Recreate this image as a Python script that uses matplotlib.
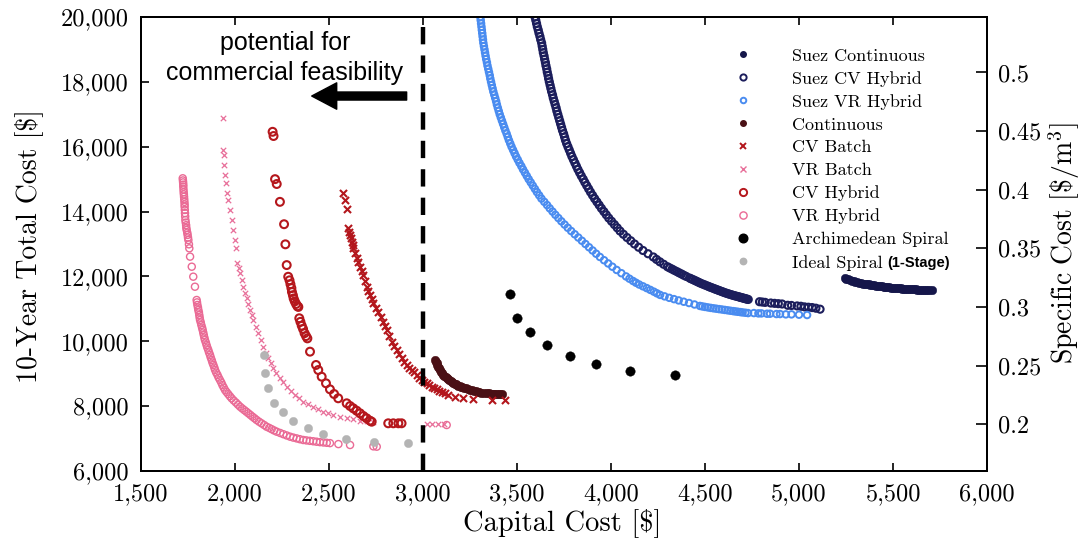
import matplotlib
matplotlib.use("Agg")
import matplotlib.pyplot as plt
from matplotlib.patches import FancyArrowPatch
from matplotlib.lines import Line2D
from matplotlib.ticker import FixedLocator, FixedFormatter

plt.rcParams["mathtext.fontset"] = "cm"
plt.rcParams["axes.formatter.use_mathtext"] = True
SERIF = "cmr10"
SANS = "Liberation Sans"

# ---------------- data: capital cost [$] vs 10-year total cost [$] ----------------
suez_cont_x = [5245, 5252, 5260, 5270, 5280, 5290, 5300, 5310, 5320, 5330, 5340, 5350, 5360,
               5370, 5380, 5390, 5400, 5410, 5420, 5430, 5440, 5450, 5460, 5470, 5480, 5490,
               5500, 5510, 5520, 5530, 5540, 5550, 5560, 5570, 5580, 5590, 5600, 5610, 5620,
               5630, 5640, 5650, 5660, 5670, 5680, 5693, 5706]
suez_cont_y = [11942, 11926, 11910, 11890, 11870, 11850, 11830, 11815, 11800, 11790, 11780,
               11773, 11766, 11755, 11745, 11735, 11725, 11717, 11710, 11702, 11695, 11687,
               11680, 11672, 11665, 11658, 11652, 11646, 11640, 11635, 11630, 11625, 11620,
               11616, 11612, 11608, 11605, 11601, 11598, 11595, 11592, 11590, 11588, 11586,
               11584, 11582, 11581]

suez_cv_x = [3596, 3600, 3604, 3608, 3613, 3617, 3622, 3626, 3631, 3634,
             3637, 3640, 3644, 3647, 3651, 3654, 3658, 3661, 3665, 3668,
             3672, 3676, 3680, 3684, 3689, 3693, 3698, 3703, 3708, 3712,
             3717, 3722, 3727, 3732, 3737, 3742, 3748, 3753, 3758, 3764,
             3771, 3778, 3785, 3792, 3800, 3808, 3816, 3824, 3833, 3842,
             3852, 3861, 3871, 3881, 3891, 3902, 3913, 3925, 3937, 3949,
             3962, 3975, 3988, 4003, 4018, 4033, 4048, 4066, 4085, 4105,
             4125, 4147, 4170, 4197, 4225, 4242, 4260, 4280, 4300, 4325,
             4350, 4375, 4400, 4418, 4437, 4455, 4473, 4494, 4515, 4532,
             4550, 4566, 4582, 4598, 4615, 4631, 4648, 4664, 4680, 4692,
             4705, 4717, 4730,
             4312, 4337, 4362, 4387, 4427, 4446, 4464, 4483, 4504, 4523,
             4541, 4558, 4574, 4590, 4606, 4623, 4640, 4656, 4672, 4686,
             4698, 4711, 4723,
             4790, 4805, 4820, 4850, 4870, 4890, 4910, 4940, 4960, 4990,
             5010, 5030, 5050, 5070, 5090, 5112]
suez_cv_y = [20000, 19900, 19800, 19700, 19600, 19500, 19400, 19300, 19200, 19100,
             19000, 18900, 18800, 18700, 18600, 18500, 18400, 18300, 18200, 18100,
             18000, 17900, 17800, 17700, 17600, 17500, 17400, 17300, 17200, 17100,
             17000, 16900, 16800, 16700, 16600, 16500, 16400, 16300, 16200, 16100,
             16000, 15900, 15800, 15700, 15600, 15500, 15400, 15300, 15200, 15100,
             15000, 14900, 14800, 14700, 14600, 14500, 14400, 14300, 14200, 14100,
             14000, 13900, 13800, 13700, 13600, 13500, 13400, 13300, 13200, 13100,
             13000, 12900, 12800, 12700, 12600, 12525, 12450, 12375, 12300, 12225,
             12150, 12075, 12000, 11950, 11900, 11850, 11800, 11750, 11700, 11660,
             11620, 11585, 11550, 11515, 11480, 11450, 11420, 11395, 11370, 11350,
             11330, 11310, 11290,
             12262, 12187, 12112, 12037, 11925, 11875, 11825, 11775, 11725, 11680,
             11640, 11602, 11567, 11532, 11497, 11465, 11435, 11407, 11382, 11360,
             11340, 11320, 11300,
             11220, 11210, 11200, 11180, 11170, 11160, 11150, 11110, 11105, 11090,
             11080, 11060, 11050, 11040, 11020, 10990]

suez_vr_x = [3305, 3307, 3309, 3311, 3313, 3315, 3317, 3319, 3321, 3324,
             3327, 3330, 3333, 3336, 3340, 3343, 3347, 3351, 3355, 3358,
             3362, 3366, 3370, 3374, 3379, 3384, 3389, 3393, 3398, 3403,
             3408, 3414, 3420, 3426, 3432, 3438, 3445, 3451, 3457, 3464,
             3471, 3479, 3487, 3495, 3504, 3513, 3523, 3532, 3542, 3552,
             3562, 3573, 3584, 3595, 3606, 3618, 3630, 3645, 3660, 3674,
             3689, 3704, 3720, 3736, 3753, 3770, 3788, 3807, 3826, 3845,
             3864, 3883, 3902, 3921, 3941, 3963, 3985, 4007, 4030, 4055,
             4080, 4098, 4117, 4133, 4150, 4170, 4190, 4209, 4228, 4244,
             4261, 4285, 4310, 4335, 4360, 4387, 4415, 4444, 4473, 4486,
             4500, 4515, 4530, 4545, 4560, 4575, 4590, 4605, 4620, 4635,
             4650, 4662, 4675, 4688, 4700, 4715, 4729,
             4760, 4784, 4800, 4830, 4846, 4880, 4899, 4930, 4960, 5000, 5043]
suez_vr_y = [20000, 19900, 19800, 19700, 19600, 19500, 19400, 19300, 19200, 19100,
             19000, 18900, 18800, 18700, 18600, 18500, 18400, 18300, 18200, 18100,
             18000, 17900, 17800, 17700, 17600, 17500, 17400, 17300, 17200, 17100,
             17000, 16900, 16800, 16700, 16600, 16500, 16400, 16300, 16200, 16100,
             16000, 15900, 15800, 15700, 15600, 15500, 15400, 15300, 15200, 15100,
             15000, 14900, 14800, 14700, 14600, 14500, 14400, 14300, 14200, 14100,
             14000, 13900, 13800, 13700, 13600, 13500, 13400, 13300, 13200, 13100,
             13000, 12900, 12800, 12700, 12600, 12500, 12400, 12300, 12200, 12100,
             12000, 11930, 11860, 11805, 11750, 11695, 11640, 11585, 11530, 11480,
             11430, 11385, 11340, 11300, 11260, 11220, 11180, 11135, 11090, 11075,
             11060, 11045, 11030, 11017, 11005, 10992, 10980, 10967, 10955, 10942,
             10930, 10920, 10910, 10900, 10890, 10880, 10870,
             10870, 10860, 10860, 10850, 10850, 10840, 10840, 10830, 10830, 10820, 10810]

cont_x = [3064, 3068, 3072, 3076, 3080, 3085, 3090, 3096, 3102, 3108, 3114, 3120, 3126, 3133,
          3140, 3148, 3155, 3162, 3170, 3175, 3180, 3188, 3195, 3202, 3210, 3220, 3230, 3240,
          3250, 3260, 3270, 3280, 3290, 3300, 3310, 3325, 3339, 3350, 3360, 3370, 3380, 3390,
          3400, 3410, 3419]
cont_y = [9423, 9370, 9320, 9270, 9220, 9165, 9114, 9065, 9020, 8975, 8930, 8893, 8858, 8828,
          8800, 8770, 8740, 8715, 8690, 8671, 8652, 8636, 8620, 8602, 8585, 8565, 8545, 8521,
          8498, 8484, 8470, 8457, 8445, 8432, 8420, 8408, 8396, 8390, 8385, 8381, 8378, 8374,
          8370, 8367, 8365]

cv_batch_x = [2576, 2585, 2597, 2603, 2608, 2612, 2617, 2621, 2625, 2629, 2638, 2647, 2656, 2665,
              2674, 2683, 2692, 2700, 2709, 2718, 2727, 2736, 2750, 2763, 2776, 2789, 2798, 2807,
              2820, 2834, 2847, 2860, 2873, 2887, 2900, 2913, 2927, 2940, 2953, 2966, 2980, 2993,
              3006, 3020, 3033, 3046, 3060, 3073, 3086, 3099, 3117, 3135, 3170, 3214, 3268, 3365,
              3436]
cv_batch_y = [14563, 14356, 14070, 13484, 13380, 13277, 13170, 13071, 12970, 12867, 12710, 12559,
              12430, 12300, 12170, 12044, 11860, 11683, 11550, 11427, 11300, 11171, 11040, 10912,
              10760, 10604, 10480, 10348, 10170, 9987, 9860, 9731, 9600, 9475, 9370, 9269, 9190,
              9114, 9040, 8960, 8880, 8806, 8750, 8704, 8650, 8600, 8560, 8519, 8480, 8445, 8390,
              8343, 8273, 8242, 8211, 8189, 8189]

vr_batch_x = [1935, 1938, 1941, 1943, 1947, 1952, 1959, 1964, 1973, 1982, 1991, 2000, 2005, 2012,
              2020, 2027, 2035, 2044, 2053, 2062, 2071, 2080, 2088, 2097, 2110, 2124, 2137, 2151,
              2164, 2177, 2190, 2204, 2220, 2239, 2257, 2275, 2297, 2319, 2341, 2363, 2390, 2417,
              2443, 2470, 2497, 2523, 2560, 2594, 2630, 2665, 2700, 2736, 3020, 3050, 3080, 3110]
vr_batch_y = [16876, 15898, 15744, 15436, 15127, 14871, 14563, 14356, 14048, 13740, 13431, 13123,
              12867, 12405, 12250, 12096, 11890, 11683, 11500, 11325, 11140, 10965, 10810, 10656,
              10450, 10246, 10040, 9833, 9650, 9475, 9320, 9167, 9010, 8858, 8730, 8600, 8470,
              8343, 8240, 8137, 8060, 7983, 7905, 7828, 7780, 7727, 7680, 7625, 7590, 7551, 7535,
              7520, 7450, 7450, 7440, 7440]

cv_hyb_x = [2200, 2205, 2213, 2222, 2239, 2261, 2268, 2275, 2283, 2290, 2295, 2300, 2303, 2308,
            2312, 2318, 2325, 2332, 2337, 2342, 2348, 2355, 2362, 2370, 2378, 2385, 2399, 2431,
            2443, 2461, 2484, 2505, 2527, 2549, 2594, 2612, 2629, 2647, 2665, 2683, 2700, 2718,
            2727, 2815, 2842, 2869, 2886]
cv_hyb_y = [16460, 16330, 15000, 14850, 14300, 13610, 12990, 12350, 11990, 11880, 11760, 11640,
            11520, 11420, 11320, 11230, 11150, 11080, 11060, 10710, 10600, 10480, 10380, 10250,
            10160, 10090, 9680, 9270, 9114, 8908, 8704, 8519, 8374, 8242, 8088, 8004, 7933, 7859,
            7779, 7696, 7625, 7551, 7520, 7471, 7471, 7471, 7471]

vr_hyb_x = [1722, 1723, 1724, 1725, 1725, 1726, 1727, 1728, 1729, 1730, 1731, 1732, 1732, 1733,
            1734, 1735, 1736, 1738, 1740, 1741, 1743, 1746, 1748, 1750, 1752, 1755, 1757, 1761,
            1770, 1778, 1787, 1796, 1798, 1800, 1803, 1805, 1808, 1810, 1812, 1814, 1818, 1821,
            1825, 1828, 1831, 1834, 1837, 1840, 1845, 1849, 1853, 1858, 1862, 1867, 1871, 1876,
            1880, 1885, 1890, 1894, 1900, 1907, 1913, 1920, 1927, 1933, 1940, 1947, 1955, 1964,
            1973, 1982, 1993, 2005, 2016, 2027, 2038, 2049, 2060, 2071, 2082, 2093, 2104, 2115,
            2128, 2141, 2155, 2168, 2182, 2195, 2208, 2222, 2240, 2257, 2275, 2293, 2310, 2328,
            2345, 2363, 2380, 2398, 2416, 2434, 2452, 2470, 2488, 2505, 2550, 2612, 2736, 2754,
            3126]
vr_hyb_y = [15026, 14960, 14900, 14830, 14767, 14680, 14600, 14530, 14458, 14380, 14300, 14220,
            14150, 14050, 13950, 13850, 13740, 13660, 13580, 13500, 13431, 13350, 13280, 13200,
            13123, 12990, 12867, 12610, 12300, 11992, 11683, 11273, 11200, 11120, 11040, 10965,
            10890, 10810, 10730, 10656, 10580, 10500, 10420, 10348, 10270, 10190, 10115, 10040,
            9960, 9880, 9805, 9731, 9655, 9580, 9500, 9423, 9345, 9270, 9190, 9114, 9035, 8960,
            8880, 8806, 8730, 8650, 8575, 8498, 8435, 8370, 8305, 8242, 8175, 8110, 8045, 7983,
            7930, 7880, 7830, 7779, 7727, 7675, 7625, 7573, 7520, 7470, 7418, 7366, 7328, 7290,
            7250, 7212, 7173, 7135, 7096, 7058, 7030, 7005, 6980, 6956, 6943, 6930, 6917, 6903,
            6890, 6880, 6870, 6860, 6830, 6802, 6760, 6750, 7418]

arch_x = [3463, 3502, 3569, 3661, 3782, 3919, 4101, 4340]
arch_y = [11449, 10709, 10277, 9885, 9555, 9290, 9084, 8960]

ideal_x = [2156, 2160, 2177, 2207, 2254, 2310, 2387, 2470, 2590, 2741, 2919]
ideal_y = [9577, 9031, 8550, 8106, 7810, 7542, 7317, 7141, 6977, 6885, 6854]

x_ticks = [1500, 2000, 2500, 3000, 3500, 4000, 4500, 5000, 5500, 6000]
y_ticks = [6000, 8000, 10000, 12000, 14000, 16000, 18000, 20000]
spec_ticks = [0.2, 0.25, 0.3, 0.35, 0.4, 0.45, 0.5]
spec_labels = ["0.2", "0.25", "0.3", "0.35", "0.4", "0.45", "0.5"]
threshold = 3000

# ---------------- figure ----------------
W, H = 1086, 548
fig = plt.figure(figsize=(W / 100, H / 100), dpi=100)
ax = fig.add_axes([141 / W, 1 - 471 / H, (987 - 141) / W, (471 - 17) / H])
ax.set_xlim(1500, 6000)
ax.set_ylim(6000, 20000)

NAVY = "#15164a"
NAVY_H = "#1c1e5c"
LBLUE = "#4a8cf0"
MAROON = "#4a1015"
RED = "#b3161c"
PINK = "#e8709a"
RED_O = "#b5171c"
PINK_O = "#ea6a95"
GRAY = "#b4b4b4"

series = [
    dict(x=suez_cont_x, y=suez_cont_y, label="Suez Continuous", marker="o", fc=NAVY, ec=NAVY, s=38, lw=0.3, ls=4.0, lfc=NAVY),
    dict(x=suez_cv_x, y=suez_cv_y, label="Suez CV Hybrid", marker="o", fc="none", ec=NAVY_H, s=26, lw=1.5, ls=4.5, lfc="none"),
    dict(x=suez_vr_x, y=suez_vr_y, label="Suez VR Hybrid", marker="o", fc="none", ec=LBLUE, s=22, lw=1.4, ls=4.0, lfc="none"),
    dict(x=cont_x, y=cont_y, label="Continuous", marker="o", fc=MAROON, ec=MAROON, s=38, lw=0.3, ls=4.0, lfc=MAROON),
    dict(x=cv_batch_x, y=cv_batch_y, label="CV Batch", marker="x", fc=RED, ec=RED, s=26, lw=1.5, ls=5.0, lfc=RED),
    dict(x=vr_batch_x, y=vr_batch_y, label="VR Batch", marker="x", fc=PINK, ec=PINK, s=15, lw=0.9, ls=4.0, lfc=PINK),
    dict(x=cv_hyb_x, y=cv_hyb_y, label="CV Hybrid", marker="o", fc="none", ec=RED_O, s=32, lw=1.5, ls=5.2, lfc="none"),
    dict(x=vr_hyb_x, y=vr_hyb_y, label="VR Hybrid", marker="o", fc="none", ec=PINK_O, s=26, lw=1.0, ls=5.2, lfc="none"),
    dict(x=arch_x, y=arch_y, label="Archimedean Spiral", marker="o", fc="black", ec="black", s=46, lw=0.3, ls=6.2, lfc="black"),
    dict(x=ideal_x, y=ideal_y, label="Ideal Spiral", marker="o", fc=GRAY, ec=GRAY, s=36, lw=0.3, ls=4.6, lfc=GRAY),
]

handles = []
for sr in series:
    if sr["marker"] == "x":
        ax.scatter(sr["x"], sr["y"], marker="x", c=sr["ec"], s=sr["s"], linewidths=sr["lw"], zorder=3)
    else:
        ax.scatter(sr["x"], sr["y"], marker="o", facecolors=sr["fc"], edgecolors=sr["ec"],
                   s=sr["s"], linewidths=sr["lw"], zorder=3)
    handles.append(Line2D([], [], linestyle="none", marker=sr["marker"], markersize=sr["ls"],
                          markerfacecolor=sr["lfc"], markeredgecolor=sr["ec"],
                          markeredgewidth=max(min(sr["lw"], 1.4), 1.0), label=sr["label"]))

# threshold for commercial feasibility
vline = ax.axvline(threshold, color="black", lw=3.2, zorder=4)
vline.set_dashes((3.9, 2.5))

arrow = FancyArrowPatch((2913, 17563), (2408, 17563),
                        arrowstyle="simple,head_length=18,head_width=19,tail_width=5.8",
                        mutation_scale=1, color="black", shrinkA=0, shrinkB=0, zorder=5)
ax.add_patch(arrow)
fig.text(285 / W, 1 - 50 / H, "potential for", family=SANS, fontsize=18,
         ha="center", va="baseline")
fig.text(284 / W, 1 - 80 / H, "commercial feasibility", family=SANS, fontsize=18,
         ha="center", va="baseline")

# ---------------- axes styling ----------------
for sp in ax.spines.values():
    sp.set_linewidth(1.4)

ax.xaxis.set_major_locator(FixedLocator(x_ticks))
ax.xaxis.set_major_formatter(FixedFormatter([f"{v:,}" for v in x_ticks]))
ax.yaxis.set_major_locator(FixedLocator(y_ticks))
ax.yaxis.set_major_formatter(FixedFormatter([f"{v:,}" for v in y_ticks]))
ax.tick_params(axis="both", direction="in", length=6, width=1.2, labelsize=17.5,
               top=True, right=False)
ax.tick_params(axis="x", pad=9)
ax.tick_params(axis="y", pad=9)
for lab in ax.get_xticklabels() + ax.get_yticklabels():
    lab.set_family(SERIF)

ax2 = ax.twinx()
ax2.set_ylim(0.1602, 0.5473)
ax2.yaxis.set_major_locator(FixedLocator(spec_ticks))
ax2.yaxis.set_major_formatter(FixedFormatter(spec_labels))
ax2.tick_params(axis="y", direction="in", length=8, width=1.2, labelsize=17.5, pad=8)
for lab in ax2.get_yticklabels():
    lab.set_family(SERIF)
for sp in ax2.spines.values():
    sp.set_linewidth(1.4)

fig.text(562 / W, 1 - 523 / H, "Capital Cost [$]", family=SERIF, fontsize=20.5,
         ha="center", va="center")
fig.text(29 / W, 1 - 246 / H, "10-Year Total Cost [$]", family=SERIF, fontsize=20,
         ha="center", va="center", rotation=90)
fig.text(1064 / W, 1 - 243 / H, r"$\mathrm{Specific\ Cost\ [\$/m^3]}$", fontsize=20,
         ha="center", va="center", rotation=90)

leg = ax2.legend(handles=handles, loc="upper left", bbox_to_anchor=(731 / W, 1 - 48 / H),
                 bbox_transform=fig.transFigure, frameon=False, borderpad=0,
                 borderaxespad=0, handlelength=1.3, handletextpad=2.1, labelspacing=0.4,
                 prop={"family": SERIF, "size": 13})

fig.canvas.draw()
bb = leg.get_texts()[-1].get_window_extent()
fig.text((bb.x1 + 4) / W, (bb.y0 + bb.y1) / 2 / H, "(1-Stage)", family=SANS,
         fontsize=10.5, fontweight="bold", ha="left", va="center")

fig.savefig("out.png", dpi=100)
